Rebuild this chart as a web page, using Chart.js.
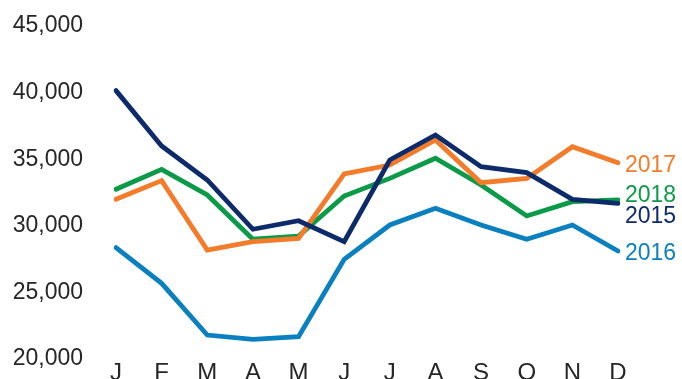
<!DOCTYPE html>
<html lang="en">
<head>
    <meta charset="UTF-8">
    <title>Monthly totals by year</title>
    <script src="https://cdn.jsdelivr.net/npm/chart.js"></script>
    <style>
        html, body { margin: 0; padding: 0; background: #fff; }
        #wrap { width: 682px; height: 379px; }
    </style>
</head>
<body>
    <div id="wrap"><canvas id="yearChart" width="682" height="379"></canvas></div>

    <script>
        // --- data ---
        const months = ['J', 'F', 'M', 'A', 'M', 'J', 'J', 'A', 'S', 'O', 'N', 'D'];
        const yTicks = [20000, 25000, 30000, 35000, 40000, 45000];

        const y2015 = [40000, 35840, 33290, 29590, 30230, 28660, 34790, 36670, 34290, 33840, 31840, 31540];
        const y2016 = [28210, 25530, 21650, 21330, 21520, 27330, 29910, 31160, 29910, 28840, 29910, 27960];
        const y2017 = [31840, 33240, 28030, 28660, 28910, 33740, 34410, 36290, 33090, 33410, 35790, 34590];
        const y2018 = [32590, 34090, 32160, 28840, 29080, 32090, 33410, 34920, 32910, 30590, 31660, 31790];

        const font = "'Liberation Sans', Arial, Helvetica, sans-serif";
        const textColor = '#262626';

        // line end labels, nudged apart where they would collide
        const endLabels = {
            '2017': { color: '#f47b2a', dy: 1 },
            '2018': { color: '#0b9a48', dy: -6.5 },
            '2015': { color: '#0d2a6b', dy: 11.5 },
            '2016': { color: '#0a80c0', dy: 0.5 }
        };

        const endLabelPlugin = {
            id: 'endLabels',
            afterDatasetsDraw(chart) {
                const ctx = chart.ctx;
                ctx.save();
                ctx.font = '23px ' + font;
                ctx.textAlign = 'left';
                ctx.textBaseline = 'alphabetic';
                chart.data.datasets.forEach((ds, i) => {
                    const meta = chart.getDatasetMeta(i);
                    const last = meta.data[meta.data.length - 1];
                    const cfg = endLabels[ds.label];
                    ctx.fillStyle = cfg.color;
                    // centre the digits (cap height ~16px) on the line end
                    ctx.fillText(ds.label, last.x + 7, last.y + cfg.dy + 8.2);
                });
                ctx.restore();
            }
        };

        function line(label, data) {
            return {
                label: label,
                data: data,
                borderColor: endLabels[label].color,
                backgroundColor: endLabels[label].color,
                borderWidth: 4.8,
                borderCapStyle: 'round',
                borderJoinStyle: 'miter',
                pointRadius: 0,
                tension: 0,
                fill: false
            };
        }

        new Chart(document.getElementById('yearChart'), {
            type: 'line',
            data: {
                labels: months,
                datasets: [
                    line('2015', y2015),
                    line('2017', y2017),
                    line('2018', y2018),
                    line('2016', y2016)
                ]
            },
            options: {
                responsive: false,
                animation: false,
                layout: { padding: { top: 24, right: 64, bottom: 0, left: 0 } },
                plugins: {
                    legend: { display: false },
                    tooltip: { enabled: false }
                },
                scales: {
                    x: {
                        offset: false,
                        grid: { display: false, drawTicks: false },
                        border: { display: false },
                        ticks: {
                            padding: 2,
                            color: textColor,
                            font: { family: font, size: 24 },
                            maxRotation: 0,
                            autoSkip: false
                        },
                        afterFit(scale) {
                            scale.height = 22;
                            scale.paddingLeft = 0;
                            scale.paddingRight = 0;
                        }
                    },
                    y: {
                        min: 20000,
                        max: 45000,
                        afterBuildTicks(scale) {
                            scale.ticks = yTicks.map(v => ({ value: v }));
                        },
                        grid: { display: false, drawTicks: false },
                        border: { display: false },
                        ticks: {
                            padding: 33,
                            labelOffset: 2,
                            color: textColor,
                            font: { family: font, size: 23 },
                            callback: v => v.toLocaleString('en-US')
                        },
                        afterFit(scale) {
                            // keep the tick padding from pushing the plot inwards
                            scale.width = 116;
                            scale.paddingTop = 0;
                            scale.paddingBottom = 0;
                        }
                    }
                }
            },
            plugins: [endLabelPlugin]
        });
    </script>
</body>
</html>
